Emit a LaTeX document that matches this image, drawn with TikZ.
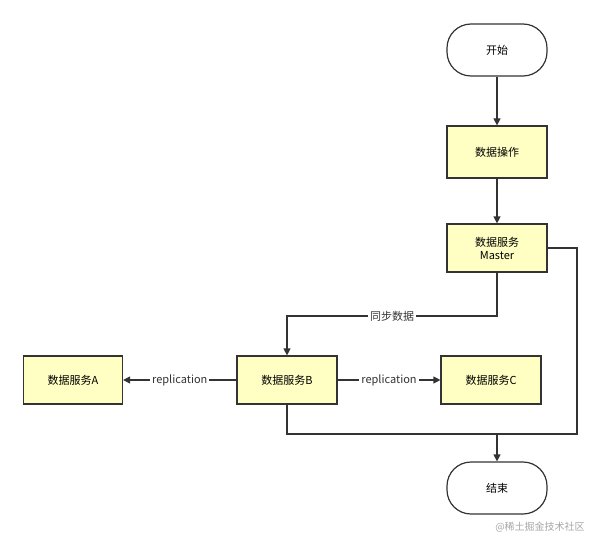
\documentclass[tikz,border=0pt]{standalone}
\usepackage{fontspec}
\setmainfont{Noto Sans CJK SC}
\usetikzlibrary{arrows.meta}
\definecolor{boxfill}{HTML}{FFFFC4}
\definecolor{edge}{HTML}{333333}
\begin{document}
\begin{tikzpicture}[x=1pt,y=-1pt,font=\fontsize{11}{13}\selectfont,
  proc/.style={draw=edge,line width=1.2pt,fill=boxfill,minimum width=100pt,minimum height=48pt,align=center,inner sep=1pt},
  term/.style={draw=edge,line width=1.2pt,fill=white,rounded corners=24pt,minimum width=100pt,minimum height=52pt},
  conn/.style={draw=edge,line width=1.2pt},
  arr/.style={conn,-{Triangle[length=7pt,width=7pt]}},
  lbl/.style={fill=white,inner sep=2pt,text=edge}]
\useasboundingbox (0,0) rectangle (601,540);
\node[term] (start) at (497,50) {开始};
\node[proc,minimum height=52pt] (op) at (497,152) {数据操作};
\node[proc] (m) at (497,248) {数据服务\\Master};
\node[proc] (b) at (287,380) {数据服务B};
\node[proc,minimum width=99pt] (a) at (73,380) {数据服务A};
\node[proc] (c) at (491,380) {数据服务C};
\node[term] (end) at (497,488) {结束};
\coordinate (j) at (497,434);
\draw[arr] (start) -- (op);
\draw[arr] (op) -- (m);
\draw[arr] (m.south) -- (497,316) -- node[lbl]{同步数据} (287,316) -- (b.north);
\draw[arr] (b) -- node[lbl]{replication} (a);
\draw[arr] (b) -- node[lbl]{replication} (c);
\draw[conn] (b.south) |- (j);
\draw[conn] (m.east) -- (577,248) -- (577,434) -- (j);
\draw[arr] (j) -- (end);
\node[text=gray!70,font=\fontsize{10}{12}\selectfont] (wm) at (540,527) {@稀土掘金技术社区};
\end{tikzpicture}
\end{document}
